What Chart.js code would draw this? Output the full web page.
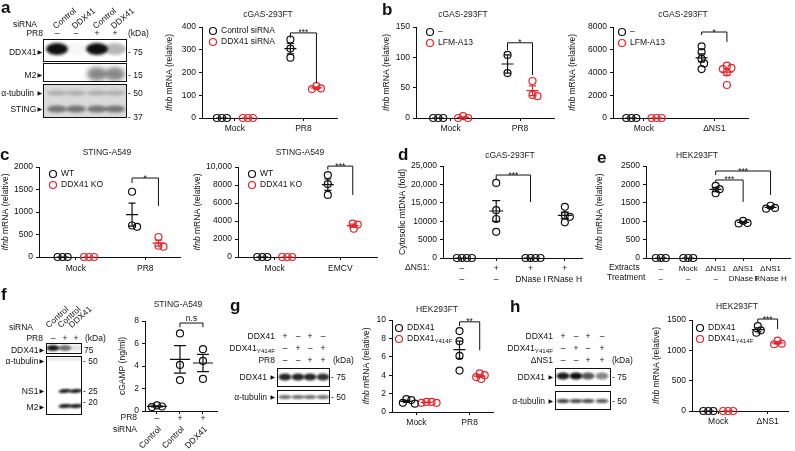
<!DOCTYPE html>
<html>
<head>
<meta charset="utf-8">
<script src="https://cdn.jsdelivr.net/npm/chart.js@4.4.1/dist/chart.umd.min.js"></script>
<style>
  html, body { margin: 0; padding: 0; background: #fff; }
  #fig { position: relative; width: 795px; height: 451px; overflow: hidden;
         font-family: 'Liberation Sans', Arial, sans-serif; color: #111; }
  #fig canvas { position: absolute; }
  .t { position: absolute; white-space: nowrap; line-height: 1; }
  .t sub { font-size: 6.2px; vertical-align: -2px; line-height: 0; }
  .tri { font-family: 'DejaVu Sans', sans-serif; font-size: 6px; margin-left: 1px; vertical-align: 1px; }
  .L { position: absolute; font-weight: bold; line-height: 1; }
</style>
</head>
<body>
<div id="fig"><canvas id="blots" width="795" height="451" style="left:0;top:0"></canvas></div>
<script>
const FONT = "'Liberation Sans', Arial, sans-serif";
Chart.defaults.font.family = FONT;
Chart.defaults.font.size = 8.5;
Chart.defaults.color = '#111';
Chart.defaults.animation = false;

const RED = '#e3262b';
const BLK = '#111';

// ---------- data ----------
// a
const aGroups = ['Mock', 'PR8'];
const aYTicks = ['0', '100', '200', '300', '400'];
const aControl = [[0, 0, 0], [345, 305, 265]];
const aDdx41 = [[0, 0, 0], [140, 130, 127]];
// b, left
const bGroups = ['Mock', 'PR8'];
const bYTicks = ['0', '50', '100', '150'];
const bVehicle = [[0, 0, 0], [104, 74]];
const bLfm = [[3, 0, 0], [61, 38, 36]];
// b, right
const b2Groups = ['Mock', 'ΔNS1'];
const b2YTicks = ['0', '2000', '4000', '6000', '8000'];
const b2Vehicle = [[0, 0, 0], [6300, 5800, 5200, 4800, 4300]];
const b2Lfm = [[0, 0, 0], [4600, 4400, 4300, 4000, 2900]];
// c, left
const cGroups = ['Mock', 'PR8'];
const cYTicks = ['0', '500', '1000', '1500', '2000'];
const cWT = [[0, 0, 0], [1450, 700, 670]];
const cKO = [[0, 0, 0], [445, 250, 230]];
// c, right
const c2Groups = ['Mock', 'EMCV'];
const c2YTicks = ['0', '2000', '4000', '6000', '8000', '10,000'];
const c2WT = [[0, 0, 0], [9100, 8100, 6900]];
const c2KO = [[0, 0, 0], [3700, 3600, 3150]];
// d
const dGroups = [['–', '–'], ['+', '–'], ['+', 'DNase I'], ['+', 'RNase H']];
const dYTicks = ['0', '5000', '10000', '15,000', '20,000', '25,000'];
const dMtDNA = [[0, 0, 0, 0], [20400, 13000, 10600, 7100], [0, 0, 0, 0], [13900, 11600, 11200, 9700]];
// e
const eGroups = [['–', '–'], ['Mock', '–'], ['ΔNS1', '–'], ['ΔNS1', 'DNase I'], ['ΔNS1', 'RNase H']];
const eYTicks = ['0', '500', '1000', '1500', '2000', '2500'];
const eIfnb = [[0, 0, 0], [0, 0, 0], [1960, 1870, 1760], [1010, 950, 940], [1420, 1360, 1340]];
// f
const fPR8 = ['–', '+', '+'];
const fSiRNA = ['Control', 'Control', 'DDX41'];
const fYTicks = ['0', '2', '4', '6', '8'];
const fCgamp = [[0.5, 0.4, 0.35], [6.9, 4.1, 2.75], [5.5, 4.45, 2.85]];
// g
const gGroups = ['Mock', 'PR8'];
const gYTicks = ['0', '2', '4', '6', '8', '10'];
const gWT = [[1.4, 1.3, 1.0, 0.9], [8.8, 7.7, 6.1, 4.5]];
const gMut = [[1.1, 1.1, 1.0, 1.0], [4.2, 4.0, 3.8, 3.6]];
// h
const hGroups = ['Mock', 'ΔNS1'];
const hYTicks = ['0', '500', '1000', '1500'];
const hWT = [[0, 0, 0], [1400, 1330, 1290]];
const hMut = [[0, 0, 0], [1160, 1110, 1100]];

// blot lane labels and band strengths
const aBlotSi = ['Control', 'DDX41', 'Control', 'DDX41'];
const aBlotPR8 = ['–', '–', '+', '+'];
const aBandDDX41 = [1, 0.04, 1, 0.3];
const aBandM2 = [0, 0, 0.5, 0.5];
const aBandTub = [0.22, 0.22, 0.22, 0.22];
const aBandSTING = [0.5, 0.5, 0.5, 0.5];
const fBlotSi = ['Control', 'Control', 'DDX41'];
const fBlotPR8 = ['–', '+', '+'];
const fBandDDX41 = [0.95, 0.6, 0.12];
const fBandTub = [0.15, 0.15, 0.15];
const fBandNS1 = [0, 0.95, 0.95];
const fBandM2 = [0, 0.95, 0.95];
const ghRows = [['+', '–', '+', '–'], ['–', '+', '–', '+'], ['–', '–', '+', '+']];
const gBandDDX41 = [0.9, 0.9, 0.9, 0.85];
const gBandTub = [0.6, 0.6, 0.6, 0.6];
const hBandDDX41 = [0.95, 1, 0.7, 0.5];
const hBandTub = [0.8, 0.75, 0.75, 0.7];

const fig = document.getElementById('fig');

// ---------- helpers ----------
function mean(a) { return a.reduce((s, v) => s + v, 0) / a.length; }
function sem(a) {
  const m = mean(a);
  const sd = Math.sqrt(a.reduce((s, v) => s + (v - m) * (v - m), 0) / (a.length - 1));
  return sd / Math.sqrt(a.length);
}

// spread overlapping points sideways (in pixels), like a small beeswarm
function swarm(vals, cx, pxX, pxY) {
  const placed = [];
  return vals.map(v => {
    const py = v * pxY;
    let dx = 0;
    for (let k = 0; k < 80; k++) {
      const c = k === 0 ? 0 : (k % 2 ? 1 : -1) * Math.ceil(k / 2) * 0.5;
      if (placed.every(p => Math.hypot(p.dx - c, p.py - py) >= 5)) { dx = c; break; }
    }
    placed.push({ dx, py });
    return { x: cx + dx / pxX, y: v };
  });
}

function drawRich(ctx, str, x, y, size) {
  const m = str.match(/^(.*?)_\{(.*)\}$/);
  ctx.font = size + 'px ' + FONT;
  ctx.textAlign = 'left';
  ctx.textBaseline = 'middle';
  if (!m) { ctx.fillText(str, x, y); return; }
  ctx.fillText(m[1], x, y);
  const w = ctx.measureText(m[1]).width;
  ctx.font = (size * 0.72) + 'px ' + FONT;
  ctx.fillText(m[2], x + w, y + size * 0.32);
}

function txt(x, y, html, o = {}) {
  const el = document.createElement('div');
  el.className = o.cls || 't';
  el.innerHTML = html;
  const fs = o.size || 8.5;
  el.style.fontSize = fs + 'px';
  el.style.left = x + 'px';
  el.style.top = (y - fs / 2) + 'px';
  if (o.align === 'right') el.style.transform = 'translateX(-100%)';
  if (o.align === 'center') el.style.transform = 'translateX(-50%)';
  if (o.rot) { el.style.transformOrigin = '0 50%'; el.style.transform = 'rotate(' + o.rot + 'deg)'; }
  fig.appendChild(el);
}

// ---------- dot plot builder ----------
function dotChart(s) {
  const [x0, y0, x1, y1] = s.box;
  const pad = Object.assign({ l: 55, t: 25, r: 10, b: 30 }, s.pad || {});
  const W = x1 - x0 + pad.l + pad.r, H = y1 - y0 + pad.t + pad.b;
  const cl = x0 - pad.l, ct = y0 - pad.t;
  const cv = document.createElement('canvas');
  cv.width = W; cv.height = H;
  Object.assign(cv.style, { left: cl + 'px', top: ct + 'px', width: W + 'px', height: H + 'px' });
  fig.appendChild(cv);

  const pxY = (y1 - y0) / s.yMax;
  const pxX = (x1 - x0) / (s.xRange[1] - s.xRange[0]);
  const meanHalf = s.meanHalf || 6, capHalf = s.capHalf || 3.5;

  const datasets = s.series.map(ser => ({
    label: ser.label,
    data: ser.values.flatMap((vals, g) => swarm(vals, g + ser.offset, pxX, pxY)),
    borderColor: ser.color,
    backgroundColor: 'rgba(0,0,0,0)',
    pointRadius: 3.5,
    pointHoverRadius: 3.5,
    pointBorderWidth: 1.2,
    clip: false,
  }));

  const axisGrid = { drawOnChartArea: false, drawTicks: true, tickLength: 3, color: BLK, lineWidth: 1 };

  const extras = {
    id: 'extras',
    afterDatasetsDraw(chart) {
      const { ctx, scales: { x, y } } = chart;
      ctx.save();
      ctx.lineWidth = 1.2;
      // mean and SEM
      s.series.forEach(ser => {
        ctx.strokeStyle = ser.color;
        ser.values.forEach((vals, g) => {
          if (vals.length < 2) return;
          const m = mean(vals), e = sem(vals);
          const px = x.getPixelForValue(g + ser.offset);
          const pm = y.getPixelForValue(m);
          const pt = y.getPixelForValue(m + e), pb = y.getPixelForValue(Math.max(m - e, 0));
          ctx.beginPath();
          ctx.moveTo(px - meanHalf, pm); ctx.lineTo(px + meanHalf, pm);
          ctx.moveTo(px, pt); ctx.lineTo(px, pb);
          ctx.moveTo(px - capHalf, pt); ctx.lineTo(px + capHalf, pt);
          ctx.moveTo(px - capHalf, pb); ctx.lineTo(px + capHalf, pb);
          ctx.stroke();
        });
      });
      // significance brackets
      ctx.strokeStyle = BLK; ctx.fillStyle = BLK; ctx.lineWidth = 1;
      (s.brackets || []).forEach(b => {
        const xa = x.getPixelForValue(b.from[0] + s.series[b.from[1]].offset);
        const xb = x.getPixelForValue(b.to[0] + s.series[b.to[1]].offset);
        const yt = y.getPixelForValue(b.top);
        ctx.beginPath();
        ctx.moveTo(xa, y.getPixelForValue(b.l)); ctx.lineTo(xa, yt);
        ctx.lineTo(xb, yt); ctx.lineTo(xb, y.getPixelForValue(b.r));
        ctx.stroke();
        ctx.font = '8.5px ' + FONT;
        ctx.textAlign = 'center'; ctx.textBaseline = 'alphabetic';
        ctx.fillText(b.text, (xa + xb) / 2, b.text.includes('*') ? yt + 2.5 : yt - 2);
      });
      // title
      ctx.fillStyle = '#222';
      ctx.font = '8.5px ' + FONT;
      ctx.textAlign = 'center'; ctx.textBaseline = 'middle';
      ctx.fillText(s.title[0], s.title[1] - cl, s.title[2] - ct);
      // legend
      if (s.legend) {
        s.series.forEach((ser, i) => {
          const lx = s.legend[0] - cl, ly = s.legend[1] - ct + 11 * i;
          ctx.strokeStyle = ser.color; ctx.lineWidth = 1.2;
          ctx.beginPath(); ctx.arc(lx, ly, 3.5, 0, 2 * Math.PI); ctx.stroke();
          ctx.fillStyle = BLK;
          drawRich(ctx, ser.label, lx + 8, ly, 8.5);
        });
      }
      // y title (italic gene name)
      const yt = s.yTitle;
      const cy = (y.top + y.bottom) / 2;
      ctx.save();
      ctx.translate(yt.x - cl, cy);
      ctx.rotate(-Math.PI / 2);
      ctx.fillStyle = BLK;
      ctx.textBaseline = 'middle'; ctx.textAlign = 'left';
      ctx.font = 'italic 8.5px ' + FONT;
      const wi = ctx.measureText(yt.italic).width;
      ctx.font = '8.5px ' + FONT;
      const wr = ctx.measureText(yt.text).width;
      let sx = -(wi + wr) / 2;
      ctx.font = 'italic 8.5px ' + FONT;
      ctx.fillText(yt.italic, sx, 0);
      ctx.font = '8.5px ' + FONT;
      ctx.fillText(yt.text, sx + wi, 0);
      ctx.restore();
      // row headers under the x axis
      ctx.fillStyle = BLK; ctx.font = '8.5px ' + FONT; ctx.textBaseline = 'middle';
      (s.rowHeads || []).forEach(r => {
        ctx.textAlign = r.align || 'left';
        ctx.fillText(r.text, r.x - cl, r.y - ct);
      });
      // rotated category names
      if (s.rotLabels) {
        s.rotLabels.labels.forEach((lab, i) => {
          ctx.save();
          ctx.translate(x.getPixelForValue(i) + 3, s.rotLabels.y - ct);
          ctx.rotate(-Math.PI / 4);
          ctx.textAlign = 'right'; ctx.textBaseline = 'middle';
          ctx.fillText(lab, 0, 0);
          ctx.restore();
        });
      }
      ctx.restore();
    },
  };

  new Chart(cv, {
    type: 'scatter',
    data: { datasets },
    options: {
      responsive: false,
      devicePixelRatio: 1,
      layout: { padding: { left: 0, top: pad.t, right: pad.r, bottom: 0 } },
      plugins: { legend: { display: false }, tooltip: { enabled: false }, title: { display: false } },
      scales: {
        x: {
          type: 'linear',
          min: s.xRange[0],
          max: s.xRange[1],
          afterBuildTicks: ax => { ax.ticks = s.groups.map((_, i) => ({ value: i })); },
          afterFit: ax => { ax.height = pad.b; ax.paddingLeft = 0; ax.paddingRight = 0; },
          ticks: {
            autoSkip: false, maxRotation: 0, minRotation: 0,
            padding: s.xPad !== undefined ? s.xPad : 3,
            color: BLK,
            font: { size: s.xFont || 8.5 },
            callback: (v, i) => s.groups[i],
          },
          grid: axisGrid,
          border: { color: BLK, width: 1 },
        },
        y: {
          min: 0,
          max: s.yMax,
          afterFit: ax => { ax.width = pad.l; ax.paddingTop = 0; ax.paddingBottom = 0; },
          ticks: { stepSize: s.yStep, padding: 3, color: BLK, callback: (v, i) => s.yTicks[i] },
          grid: axisGrid,
          border: { color: BLK, width: 1 },
        },
      },
    },
    plugins: [extras],
  });
}

const ifnb = { italic: 'Ifnb', text: ' mRNA (relative)' };

// ---------- panel a ----------
dotChart({
  box: [202, 27, 337, 118], xRange: [-0.48, 1.49], yMax: 400, yStep: 100, yTicks: aYTicks,
  groups: aGroups,
  series: [
    { label: 'Control siRNA', color: BLK, values: aControl, offset: -0.19 },
    { label: 'DDX41 siRNA', color: RED, values: aDdx41, offset: 0.19 },
  ],
  brackets: [{ from: [1, 0], to: [1, 1], top: 374, l: 352, r: 154, text: '***' }],
  title: ['cGAS-293FT', 268, 15], legend: [213, 31],
  yTitle: Object.assign({ x: 170 }, ifnb),
});

// ---------- panel b ----------
dotChart({
  box: [416, 27, 554, 118], xRange: [-0.5, 1.49], yMax: 150, yStep: 50, yTicks: bYTicks,
  groups: bGroups,
  series: [
    { label: '–', color: BLK, values: bVehicle, offset: -0.18 },
    { label: 'LFM-A13', color: RED, values: bLfm, offset: 0.18 },
  ],
  brackets: [{ from: [1, 0], to: [1, 1], top: 124, l: 112, r: 71, text: '*' }],
  title: ['cGAS-293FT', 463, 15], legend: [430, 32],
  yTitle: Object.assign({ x: 387 }, ifnb),
});
dotChart({
  box: [613, 27, 748, 118], xRange: [-0.44, 1.48], yMax: 8000, yStep: 2000, yTicks: b2YTicks,
  groups: b2Groups,
  series: [
    { label: '–', color: BLK, values: b2Vehicle, offset: -0.18 },
    { label: 'LFM-A13', color: RED, values: b2Lfm, offset: 0.18 },
  ],
  brackets: [{ from: [1, 0], to: [1, 1], top: 7560, l: 7300, r: 6680, text: '*' }],
  title: ['cGAS-293FT', 683, 15], legend: [622, 32],
  yTitle: Object.assign({ x: 573 }, ifnb),
});

// ---------- panel c ----------
dotChart({
  box: [39, 167, 180, 257], xRange: [-0.53, 1.5], yMax: 2000, yStep: 500, yTicks: cYTicks,
  groups: cGroups,
  series: [
    { label: 'WT', color: BLK, values: cWT, offset: -0.19 },
    { label: 'DDX41 KO', color: RED, values: cKO, offset: 0.19 },
  ],
  brackets: [{ from: [1, 0], to: [1, 1], top: 1755, l: 1645, r: 1133, text: '*' }],
  title: ['STING-A549', 107, 153], legend: [53, 174],
  yTitle: Object.assign({ x: 6 }, ifnb), xPad: 4,
});
dotChart({
  box: [238, 167, 377, 257], xRange: [-0.56, 1.56], yMax: 10000, yStep: 2000, yTicks: c2YTicks,
  groups: c2Groups,
  series: [
    { label: 'WT', color: BLK, values: c2WT, offset: -0.19 },
    { label: 'DDX41 KO', color: RED, values: c2KO, offset: 0.19 },
  ],
  brackets: [{ from: [1, 0], to: [1, 1], top: 10100, l: 9700, r: 6900, text: '***' }],
  title: ['STING-A549', 300, 153], legend: [252, 174],
  yTitle: Object.assign({ x: 198 }, ifnb), xPad: 4,
});

// ---------- panel d ----------
dotChart({
  box: [443, 166, 582, 258], xRange: [-0.55, 3.5], yMax: 25000, yStep: 5000, yTicks: dYTicks,
  groups: dGroups, pad: { b: 35 }, meanHalf: 7, capHalf: 4,
  series: [{ label: 'mtDNA', color: BLK, values: dMtDNA, offset: 0 }],
  brackets: [{ from: [1, 0], to: [2, 0], top: 22550, l: 21200, r: 15200, text: '***' }],
  title: ['cGAS-293FT', 510, 156],
  yTitle: { x: 403, italic: '', text: 'Cytosolic mtDNA (fold)' },
  rowHeads: [{ text: 'ΔNS1:', x: 405, y: 268 }],
});

// ---------- panel e ----------
dotChart({
  box: [646, 166, 792, 258], xRange: [-0.54, 4.72], yMax: 2500, yStep: 500, yTicks: eYTicks,
  groups: eGroups, pad: { b: 35, r: 3 }, xFont: 8,
  series: [{ label: 'Ifnb', color: BLK, values: eIfnb, offset: 0 }],
  brackets: [
    { from: [2, 0], to: [4, 0], top: 2364, l: 2255, r: 1712, text: '***' },
    { from: [2, 0], to: [3, 0], top: 2120, l: 2038, r: 1522, text: '***' },
  ],
  title: ['HEK293FT', 697, 156],
  yTitle: Object.assign({ x: 600 }, ifnb),
  rowHeads: [{ text: 'Extracts', x: 609, y: 268 }, { text: 'Treatment', x: 607, y: 278 }],
});

// ---------- panel f ----------
dotChart({
  box: [145, 321, 217, 411], xRange: [-0.52, 2.61], yMax: 8, yStep: 2, yTicks: fYTicks,
  groups: fPR8, pad: { b: 45 }, meanHalf: 10, capHalf: 6, xPad: 0,
  series: [{ label: 'cGAMP', color: BLK, values: fCgamp, offset: 0 }],
  brackets: [{ from: [1, 0], to: [2, 0], top: 7.82, l: 7.45, r: 7.45, text: 'n.s' }],
  title: ['STING-A549', 178, 305],
  yTitle: { x: 123, italic: '', text: 'cGAMP (ng/ml)' },
  rowHeads: [{ text: 'PR8', x: 137, y: 418, align: 'right' }, { text: 'siRNA', x: 137, y: 430, align: 'right' }],
  rotLabels: { labels: fSiRNA, y: 428 },
});

// ---------- panel g ----------
dotChart({
  box: [392, 320, 493, 412], xRange: [-0.46, 1.44], yMax: 10, yStep: 2, yTicks: gYTicks,
  groups: gGroups,
  series: [
    { label: 'DDX41', color: BLK, values: gWT, offset: -0.19 },
    { label: 'DDX41_{Y414F}', color: RED, values: gMut, offset: 0.19 },
  ],
  brackets: [{ from: [1, 0], to: [1, 1], top: 9.8, l: 9.35, r: 6.7, text: '**' }],
  title: ['HEK293FT', 437, 310], legend: [399, 328],
  yTitle: Object.assign({ x: 367 }, ifnb),
});

// ---------- panel h ----------
dotChart({
  box: [692, 320, 788, 411], xRange: [-0.53, 1.41], yMax: 1500, yStep: 500, yTicks: hYTicks,
  groups: hGroups, pad: { r: 7 },
  series: [
    { label: 'DDX41', color: BLK, values: hWT, offset: -0.2 },
    { label: 'DDX41_{Y414F}', color: RED, values: hMut, offset: 0.2 },
  ],
  brackets: [{ from: [1, 0], to: [1, 1], top: 1516, l: 1467, r: 1350, text: '***' }],
  title: ['HEK293FT', 737, 307], legend: [700, 328],
  yTitle: Object.assign({ x: 657 }, ifnb),
});

// ---------- western blots ----------
const bctx = document.getElementById('blots').getContext('2d');
function blot(r, bg, bandsList) {
  const [l, t, rr, b] = r;
  bctx.save();
  bctx.fillStyle = bg;
  bctx.fillRect(l, t, rr - l, b - t);
  bctx.beginPath(); bctx.rect(l, t, rr - l, b - t); bctx.clip();
  bandsList.forEach(bd => {
    bctx.filter = 'blur(' + (bd.blur || 1.2) + 'px)';
    bd.lanes.forEach((lx, i) => {
      const a = bd.alpha[i];
      if (!a) return;
      bctx.fillStyle = 'rgba(15,15,15,' + a + ')';
      bctx.beginPath();
      bctx.ellipse(lx, bd.y, bd.rx, bd.ry, bd.tilt || 0, 0, 2 * Math.PI);
      bctx.fill();
    });
  });
  bctx.restore();
  bctx.strokeStyle = '#111'; bctx.lineWidth = 1;
  bctx.strokeRect(l + 0.5, t + 0.5, rr - l - 1, b - t - 1);
}
const tri = '<span class="tri">▶</span>';

// a blot
const aLanes = [57, 76, 97, 115];
blot([43, 39, 127, 62], '#fff', [{ lanes: aLanes, y: 49, rx: 11, ry: 6, alpha: aBandDDX41, blur: 1.5 }]);
blot([43, 63, 127, 82], '#fff', [{ lanes: aLanes, y: 74, rx: 10, ry: 7, alpha: aBandM2, blur: 2.5 }]);
blot([43, 84, 127, 118], '#dadada', [
  { lanes: aLanes, y: 93, rx: 10, ry: 2.5, alpha: aBandTub, blur: 1.5 },
  { lanes: aLanes, y: 109, rx: 10, ry: 3.5, alpha: aBandSTING, blur: 1.5 },
]);
aBlotSi.forEach((s, i) => txt(aLanes[i] - 3, 27, s, { rot: -40 }));
aBlotPR8.forEach((s, i) => txt(aLanes[i], 33, s, { align: 'center' }));
txt(37, 24, 'siRNA', { align: 'right' });
txt(43, 33, 'PR8', { align: 'right' });
txt(128, 33, '(kDa)');
txt(42, 52, 'DDX41' + tri, { align: 'right' });
txt(42, 75, 'M2' + tri, { align: 'right' });
txt(42, 93, 'α-tubulin ' + tri, { align: 'right' });
txt(42, 109, 'STING' + tri, { align: 'right' });
txt(128, 52, '- 75'); txt(128, 75, '- 15'); txt(128, 93, '- 50'); txt(128, 117, '- 37');

// f blot
const fLanes = [53, 65, 76];
blot([46, 343, 82, 354], '#fff', [{ lanes: fLanes, y: 348, rx: 6.5, ry: 3, alpha: fBandDDX41 }]);
blot([46, 356, 82, 415], '#fff', [
  { lanes: fLanes, y: 359, rx: 6.5, ry: 1, alpha: fBandTub },
  { lanes: fLanes, y: 391, rx: 6.5, ry: 2, alpha: fBandNS1, blur: 0.8, tilt: -0.08 },
  { lanes: fLanes, y: 406, rx: 6.5, ry: 2, alpha: fBandM2, blur: 0.8, tilt: -0.06 },
]);
fBlotSi.forEach((s, i) => txt(fLanes[i] - 6, 326, s, { rot: -42 }));
fBlotPR8.forEach((s, i) => txt(fLanes[i], 338, s, { align: 'center' }));
txt(33, 327, 'siRNA', { align: 'right' });
txt(43, 338, 'PR8', { align: 'right' });
txt(85, 338, '(kDa)');
txt(44, 350, 'DDX41' + tri, { align: 'right' });
txt(44, 361, 'α-tubulin' + tri, { align: 'right' });
txt(44, 391, 'NS1' + tri, { align: 'right' });
txt(44, 407, 'M2' + tri, { align: 'right' });
txt(84, 350, '75'); txt(83, 361, '- 50'); txt(83, 391, '- 25'); txt(83, 402, '- 20');

// g blot
const gLanes = [285, 298, 310, 323];
blot([277, 368, 330, 387], '#fff', [{ lanes: gLanes, y: 377, rx: 6.5, ry: 3.5, alpha: gBandDDX41 }]);
blot([277, 390, 330, 404], '#fff', [{ lanes: gLanes, y: 397, rx: 6.5, ry: 2, alpha: gBandTub }]);
['DDX41', 'DDX41<sub>Y414F</sub>', 'PR8'].forEach((h, r) => {
  txt(275, 336 + 12 * r, h, { align: 'right' });
  ghRows[r].forEach((s, i) => txt(gLanes[i], 336 + 12 * r, s, { align: 'center' }));
});
txt(333, 360, '(kDa)');
txt(275, 377, 'DDX41 ' + tri, { align: 'right' });
txt(275, 397, 'α-tubulin ' + tri, { align: 'right' });
txt(331, 377, '- 75'); txt(331, 397, '- 50');

// h blot
const hLanes = [563, 576, 588, 602];
blot([555, 368, 611, 386], '#fff', [{ lanes: hLanes, y: 376, rx: 6.5, ry: 3.5, alpha: hBandDDX41 }]);
blot([555, 391, 611, 410], '#fff', [{ lanes: hLanes, y: 401, rx: 6.5, ry: 2, alpha: hBandTub }]);
['DDX41', 'DDX41<sub>Y414F</sub>', 'ΔNS1'].forEach((h, r) => {
  txt(553, 336 + 12 * r, h, { align: 'right' });
  ghRows[r].forEach((s, i) => txt(hLanes[i], 336 + 12 * r, s, { align: 'center' }));
});
txt(612, 360, '(kDa)');
txt(553, 377, 'DDX41 ' + tri, { align: 'right' });
txt(553, 401, 'α-tubulin ' + tri, { align: 'right' });
txt(612, 377, '- 75'); txt(612, 401, '- 50');

// panel letters
[['a', 1, 7], ['b', 382, 9], ['c', 0, 154], ['d', 398, 154], ['e', 597, 157],
 ['f', 1, 294], ['g', 230, 305], ['h', 510, 306]].forEach(([l, x, y]) => txt(x, y, l, { cls: 'L', size: 17 }));
</script>
</body>
</html>
